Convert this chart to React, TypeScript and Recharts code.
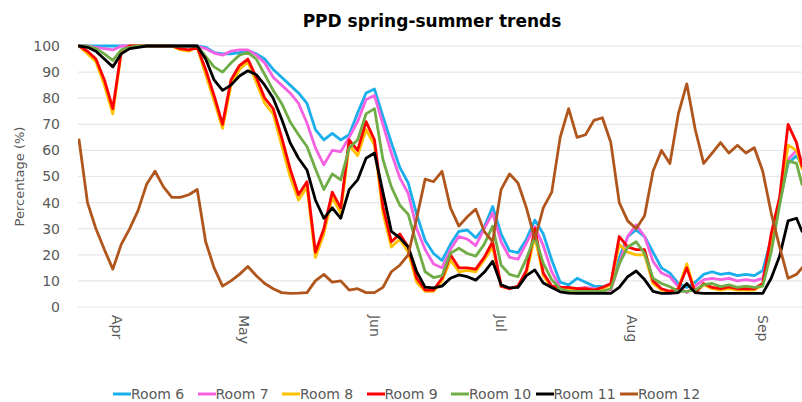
import React from 'react';
import { LineChart, Line, XAxis, YAxis, CartesianGrid, Legend } from 'recharts';

// Day index counted from 1 April (0 = Apr 1)
const days = [
  -9, -7, -5, -3, -1, 1, 3, 5, 7, 9, 11, 13, 15, 17, 19, 21, 23, 25, 27, 29,
  31, 33, 35, 37, 39, 41, 43, 45, 47, 49, 51, 53, 55, 57, 59, 61, 63, 65, 67, 69,
  71, 73, 75, 77, 79, 81, 83, 85, 87, 89, 91, 93, 95, 97, 99, 101, 103, 105, 107, 109,
  111, 113, 115, 117, 119, 121, 123, 125, 127, 129, 131, 133, 135, 137, 139, 141, 143, 145, 147, 149,
  151, 153, 155, 157, 159, 161, 162.3,
];

const room6 = [
  100, 100, 100, 100, 100, 100, 100, 100, 100, 100, 100, 100, 100, 100, 100, 99.5, 97.5, 97, 97, 97.5,
  98.3, 97, 95, 91, 88, 85, 82, 78, 68, 64, 66.5, 64, 66, 74.3, 82, 83.5, 73, 63, 53.5, 47.5,
  35.5, 25.5, 20.5, 17.8, 24, 29, 29.5, 26.5, 30.5, 38.5, 28, 21.5, 20.8, 26, 33.3, 28, 18, 9.5, 8.5, 11,
  9.5, 8, 7.8, 8.4, 19, 27, 29.5, 27, 21, 15, 13, 9, 7.5, 9.5, 12.5, 13.5, 12.5, 13, 12, 12.5,
  12, 14, 26, 40, 55, 58, 54,
];

const room7 = [
  100, 100, 99.5, 99, 98.5, 100, 100, 100, 100, 100, 100, 100, 100, 100, 100, 99, 97.3, 96.5, 98, 98.5,
  98.5, 96.5, 93.5, 88, 85, 82, 78, 70.5, 61, 54.5, 60, 59.5, 65, 71, 79.5, 81, 70, 59, 49.5, 43.5,
  30, 22, 16.5, 15, 22, 27, 26, 23.5, 30, 36, 25, 19, 18.3, 24.5, 30.8, 23.5, 13.5, 7.6, 6.5, 7,
  7.5, 7, 6.5, 6.5, 16.5, 27, 31.5, 27, 17.5, 13, 11.6, 7.8, 5.5, 8, 10.5, 11, 10.5, 11, 10, 10.5,
  10, 11, 25, 41, 56.5, 60, 56,
];

const room8 = [
  100, 97, 94, 85, 74, 97.5, 100, 100, 100, 100, 100, 100, 98.5, 98, 99.5, 89, 79, 68.5, 85, 91,
  94, 86, 78, 74, 62, 50, 41, 46, 19, 28, 42, 36, 62, 58, 68, 62, 36, 23, 26, 21,
  9.5, 6, 6, 10, 18, 13.5, 14, 13.5, 18, 23, 8, 7, 8, 13, 27, 12, 7.5, 7, 7, 6.5,
  7, 6.5, 7, 8.5, 24, 21, 20, 20, 9, 6.5, 6, 7, 16.5, 5.5, 8.5, 7, 6.5, 7, 6.5, 6.5,
  6.5, 8.5, 26, 40, 62, 60, 53,
];

const room9 = [
  100, 98, 95, 87, 76, 98, 100, 100, 100, 100, 100, 100, 99, 98.5, 99.5, 91, 81, 70, 87, 92.5,
  95, 88, 80, 76, 65, 53, 43, 48, 21, 30, 44, 38, 64, 60, 71, 64, 38.5, 25, 28, 23,
  11, 6.5, 6.5, 11, 20, 15, 15, 14.5, 19, 25, 8, 7, 8, 14, 30, 13, 8, 7.5, 7.5, 7,
  7, 6.5, 7.5, 9, 27, 23, 22, 22, 10, 7, 6, 7, 15, 5.5, 9, 7.5, 7, 7.7, 7, 7,
  7, 9, 28, 42, 70, 63, 54,
];

const room10 = [
  100, 100, 99, 97, 94.5, 98.5, 99.5, 100, 100, 100, 100, 100, 100, 100, 100, 96, 92, 90, 93.5, 96.5,
  97.5, 95, 89, 83, 78, 71, 66, 61.5, 53, 45, 51, 48.7, 61, 64, 74, 76, 56.5, 46, 39, 35.5,
  24, 13.5, 11.3, 12, 20.6, 22.5, 20.5, 19.5, 24, 31, 16, 12.5, 11.6, 18.5, 27, 16.7, 10.5, 7, 6, 6,
  6, 6, 6, 7, 16.5, 23, 25, 20.5, 11, 9, 7.8, 6, 6, 6.5, 8.6, 9, 7.8, 8.5, 7.5, 8,
  7.5, 8, 21, 39, 56, 55, 47,
];

const room11 = [
  100, 99.5, 98, 95, 92, 97, 99, 99.5, 100, 100, 100, 100, 100, 100, 100, 95, 87, 83, 85, 88.5,
  90.5, 89, 85, 80, 72, 63, 57, 52.5, 41, 34, 38, 34, 45, 48.7, 57, 59, 44, 29, 26.5, 23,
  13.5, 7.6, 7.3, 8, 11, 12.3, 11.6, 10.3, 13.3, 17.5, 8.5, 7.3, 7.5, 12, 14.2, 9.2, 7.5, 5.8, 5.3, 5.2,
  5.2, 5.2, 5.2, 5.2, 7.5, 11.6, 13.8, 10.5, 6, 5.2, 5.2, 5.5, 9, 5.5, 5.2, 5.2, 5.2, 5.2, 5.2, 5.2,
  5.2, 5.2, 11, 19.5, 33, 34, 29,
];

const room12 = [
  64, 40, 30, 22, 14.5, 24, 30, 37, 47, 52, 46, 42, 42, 43, 45, 25, 15, 8, 10, 12.5,
  15.5, 12, 9, 7, 5.5, 5.2, 5.3, 5.5, 10, 12.5, 9.5, 10, 6.5, 7, 5.5, 5.5, 7.5, 13.5, 16, 20,
  34, 49, 48, 52, 38, 31, 34.6, 37.5, 29, 25, 45, 51, 47.5, 38, 26, 38, 44, 65, 76, 65,
  66, 71.5, 72.5, 63, 40, 33, 30, 35, 52, 60, 55, 74, 85.5, 68, 55, 59, 63, 59, 62, 59,
  61, 52, 36, 23, 11, 12.5, 15,
];

const monthTicks = [0, 30, 61, 91, 122, 153];
const monthLabels = ['Apr', 'May', 'Jun', 'Jul', 'Aug', 'Sep'];
const yTicks = [0, 10, 20, 30, 40, 50, 60, 70, 80, 90, 100];

const seriesNames = ['Room 6', 'Room 7', 'Room 8', 'Room 9', 'Room 10', 'Room 11', 'Room 12'];
const seriesKeys = ['r6', 'r7', 'r8', 'r9', 'r10', 'r11', 'r12'];
const seriesColors = ['#1aaeea', '#f462e2', '#ffc000', '#ff0000', '#70ad47', '#000000', '#b0561c'];
const seriesValues = [room6, room7, room8, room9, room10, room11, room12];

const data = days.map((d, i) => {
  const row: Record<string, number> = { d };
  seriesKeys.forEach((k, j) => {
    row[k] = seriesValues[j][i];
  });
  return row;
});

const FONT = '"DejaVu Sans", sans-serif';
const GREY = '#595959';

const MonthTick = (props: any) => {
  const { x, y, payload } = props;
  const idx = monthTicks.indexOf(payload.value);
  return (
    <text
      x={x}
      y={y}
      dy="0.35em"
      transform={`rotate(90, ${x}, ${y})`}
      textAnchor="start"
      fill={GREY}
      fontSize={14}
      fontFamily={FONT}
    >
      {idx >= 0 ? monthLabels[idx] : ''}
    </text>
  );
};

const renderLegend = () => (
  <div
    style={{
      display: 'flex',
      height: 22,
      alignItems: 'center',
      fontFamily: FONT,
      fontSize: 14,
      color: GREY,
    }}
  >
    {seriesNames.map((name, i) => (
      <div key={name} style={{ width: 84.5, flexShrink: 0, display: 'flex', alignItems: 'center' }}>
        <svg width={18} height={4} style={{ display: 'block' }}>
          <line x1={0} y1={2} x2={18} y2={2} stroke={seriesColors[i]} strokeWidth={3} />
        </svg>
        <span style={{ whiteSpace: 'nowrap' }}>{name}</span>
      </div>
    ))}
  </div>
);

export default function App() {
  return (
    <div style={{ position: 'absolute', left: 0, top: 0, width: 802, height: 402, background: '#fff' }}>
      <div
        style={{
          position: 'absolute',
          left: 432,
          top: 10,
          transform: 'translateX(-50%)',
          fontFamily: FONT,
          fontWeight: 'bold',
          fontSize: 17,
          lineHeight: '22px',
          color: '#000',
          whiteSpace: 'nowrap',
          zIndex: 2,
        }}
      >
        PPD spring-summer trends
      </div>
      <LineChart
        width={802}
        height={402}
        data={data}
        margin={{ top: 46, right: 0, bottom: 13, left: 0 }}
      >
        <CartesianGrid horizontal vertical={false} stroke="#e6e6e6" strokeWidth={1.2} />
        <XAxis
          dataKey="d"
          type="number"
          domain={[-9.25, 162.3]}
          ticks={monthTicks}
          interval={0}
          allowDataOverflow
          axisLine={false}
          tickLine={false}
          height={60}
          tick={<MonthTick />}
        />
        <YAxis
          domain={[0, 100]}
          ticks={yTicks}
          interval={0}
          width={78}
          axisLine={false}
          tickLine={false}
          tickMargin={12}
          tick={{ fill: GREY, fontSize: 14, fontFamily: FONT }}
          label={{
            value: 'Percentage (%)',
            angle: -90,
            position: 'insideLeft',
            offset: 19,
            style: { textAnchor: 'middle', fill: GREY, fontSize: 13, fontFamily: FONT },
          }}
        />
        <Legend
          verticalAlign="bottom"
          content={renderLegend}
          wrapperStyle={{ left: 113, top: 383, width: 600, height: 22 }}
        />
        {seriesKeys.map((k, j) => (
          <Line
            key={k}
            type="linear"
            dataKey={k}
            name={seriesNames[j]}
            stroke={seriesColors[j]}
            strokeWidth={2.8}
            strokeLinejoin="round"
            strokeLinecap="round"
            dot={false}
            activeDot={false}
            isAnimationActive={false}
          />
        ))}
      </LineChart>
    </div>
  );
}
